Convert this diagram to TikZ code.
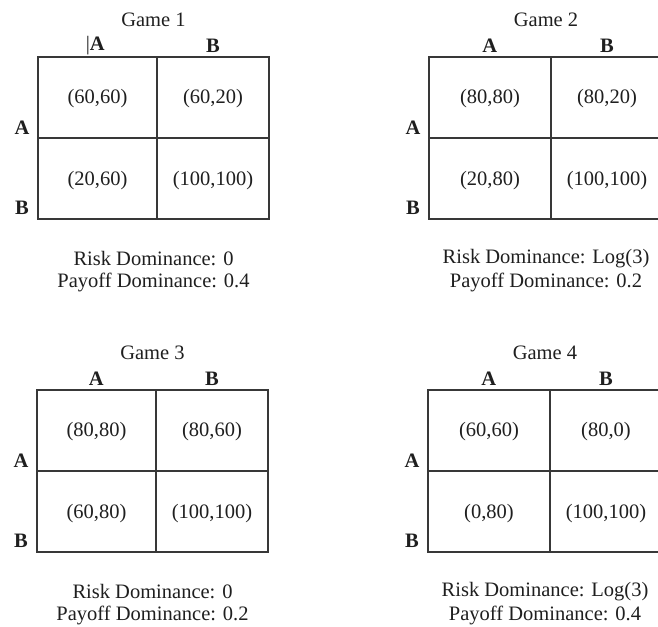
\documentclass[tikz,border=0pt]{standalone}
\usepackage{fontspec}
\setmainfont{Liberation Serif}
\tikzset{
  grid/.style={draw=black!78, line width=1.3pt},
  lab/.style={inner sep=0pt, font=\fontsize{20.5}{24}\selectfont, text=black!88},
  hdr/.style={lab, font=\fontsize{20.5}{24}\selectfont\bfseries},
}
% #1 prefix, #2 title, #3 column-A header, #4-#7 cells, #8 risk, #9 payoff
\newcommand\paygame[9]{%
  \draw[grid] (0,0) rectangle (\lw+112,162);
  \draw[grid] (\lw,0) -- (\lw,162);
  \draw[grid] (0,81) -- (\lw+112,81);
  \node[lab] (#1-title) at ({(\lw+112)/2},-37) {#2};
  \node[hdr, anchor=east] (#1-colA) at (\lw/2+7.4,-11) {#3};
  \node[hdr] (#1-colB) at (\lw+56,-11) {B};
  \node[hdr] (#1-rowA) at (-16,71) {A};
  \node[hdr] (#1-rowB) at (-16,151) {B};
  \node[lab] (#1-aa) at (\lw/2,42) {#4};
  \node[lab] (#1-ab) at (\lw+56,42) {#5};
  \node[lab] (#1-ba) at (\lw/2,124) {#6};
  \node[lab] (#1-bb) at (\lw+56,124) {#7};
  \node[lab] (#1-risk) at ({(\lw+112)/2},202) {Risk Dominance: #8};
  \node[lab] (#1-pay) at ({(\lw+112)/2},225) {Payoff Dominance: #9};
}
\begin{document}
\begin{tikzpicture}[x=1pt,y=-1pt]
\clip (0,0) rectangle (658,626);
\fill[white] (0,0) rectangle (658,626);
\begin{scope}[shift={(38,57)}]
  \def\lw{119}
  \paygame{g1}{Game 1}{{\mdseries|}A}{(60,60)}{(60,20)}{(20,60)}{(100,100)}{0}{0.4}
\end{scope}
\begin{scope}[shift={(429,57)}]
  \def\lw{122}
  \paygame{g2}{Game 2}{A}{(80,80)}{(80,20)}{(20,80)}{(100,100)}{Log(3)}{0.2}
\end{scope}
\begin{scope}[shift={(37,390)}]
  \def\lw{119}
  \paygame{g3}{Game 3}{A}{(80,80)}{(80,60)}{(60,80)}{(100,100)}{0}{0.2}
\end{scope}
\begin{scope}[shift={(428,390)}]
  \def\lw{122}
  \paygame{g4}{Game 4}{A}{(60,60)}{(80,0)}{(0,80)}{(100,100)}{Log(3)}{0.4}
\end{scope}
\end{tikzpicture}
\end{document}
